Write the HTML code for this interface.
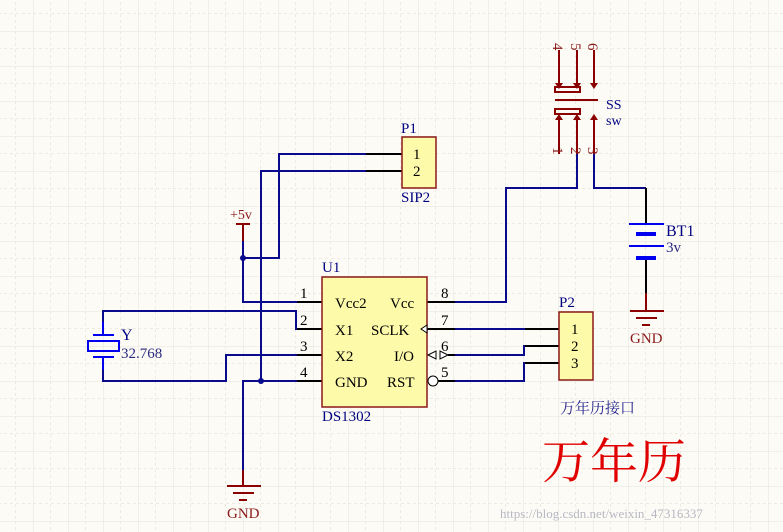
<!DOCTYPE html>
<html><head><meta charset="utf-8"><style>
html,body{margin:0;padding:0;background:#fcfbf6;}
svg{display:block;}
text{font-family:"Liberation Serif","Noto Serif CJK SC",serif;}
</style></head><body>
<svg width="783" height="532" viewBox="0 0 783 532" xmlns="http://www.w3.org/2000/svg">
<defs>
<pattern id="g" width="35" height="35" patternUnits="userSpaceOnUse" x="103" y="101">
<path d="M0 0V35M0 0H35" stroke="#e6e4da" stroke-width="1" fill="none"/>
<path d="M17.5 0V35M0 17.5H35" stroke="#eceae1" stroke-width="1" stroke-dasharray="3 3" fill="none"/>
</pattern>
</defs>
<rect width="783" height="532" fill="#fcfbf6"/>
<rect width="783" height="532" fill="url(#g)"/>

<g fill="none" stroke="#0a0a8c" stroke-width="2">
<polyline points="366,154 279,154 279,258 243,258"/>
<polyline points="243,240 243,302 297,302"/>
<polyline points="366,171 261,171 261,381"/>
<polyline points="297,329 296,329 296,311 103,311 103,322"/>
<polyline points="103,370 103,381 226,381 226,355 297,355"/>
<polyline points="297,381 243,381 243,470"/>
<polyline points="455,302 506,302 506,188 577,188 577,154"/>
<polyline points="594,154 594,188 646,188"/>
<polyline points="455,329 525,329"/>
<polyline points="448,355 524,355 524,346 525,346"/>
<polyline points="438,381 524,381 524,363 525,363"/>
</g>
<g fill="#0a0a8c"><circle cx="243" cy="258" r="3"/><circle cx="261" cy="381" r="3"/></g>

<g stroke="#000" stroke-width="2" fill="none">
<line x1="366" y1="154" x2="402" y2="154"/><line x1="366" y1="171" x2="402" y2="171"/>
<line x1="297" y1="302" x2="322" y2="302"/><line x1="297" y1="329" x2="322" y2="329"/>
<line x1="297" y1="355" x2="322" y2="355"/><line x1="297" y1="381" x2="322" y2="381"/>
<line x1="427" y1="302" x2="455" y2="302"/><line x1="427" y1="329" x2="455" y2="329"/>
<line x1="448" y1="355" x2="455" y2="355"/><line x1="438" y1="381" x2="455" y2="381"/>
<line x1="525" y1="329" x2="559" y2="329"/><line x1="525" y1="346" x2="559" y2="346"/>
<line x1="525" y1="363" x2="559" y2="363"/>
<polyline points="646,188 646,224"/><polyline points="646,258 646,293"/>
</g>

<rect x="322" y="277" width="105" height="130" fill="#fdfaaa" stroke="#8b1a1a" stroke-width="1.5"/>
<rect x="402" y="137" width="34" height="51" fill="#fdfaaa" stroke="#8b1a1a" stroke-width="1.5"/>
<rect x="559" y="312" width="34" height="68" fill="#fdfaaa" stroke="#8b1a1a" stroke-width="1.5"/>

<polygon points="427,325 421,329 427,333" fill="#fff" stroke="#000" stroke-width="1"/>
<polygon points="428,355 436,351 436,359" fill="#fff" stroke="#000" stroke-width="1"/>
<polygon points="448,355 440,351 440,359" fill="#fff" stroke="#000" stroke-width="1"/>
<circle cx="433" cy="381" r="5" fill="#fff" stroke="#000" stroke-width="1"/>

<line x1="236" y1="224" x2="250" y2="224" stroke="#8b0000" stroke-width="2"/>
<line x1="243" y1="224" x2="243" y2="241" stroke="#8b0000" stroke-width="2"/>
<text x="230" y="219" font-size="14" fill="#8b1a1a">+5v</text>

<g stroke="#8b0000" stroke-width="2">
<line x1="243" y1="470" x2="243" y2="486"/>
<line x1="227" y1="486" x2="261" y2="486"/><line x1="233" y1="493" x2="254" y2="493"/><line x1="239" y1="500" x2="247" y2="500"/>
</g>
<text x="227" y="518" font-size="15" fill="#8b1a1a">GND</text>

<g stroke="#0000ee" stroke-width="2" fill="none">
<line x1="103" y1="322" x2="103" y2="335"/><line x1="103" y1="357" x2="103" y2="370"/>
<line x1="93" y1="335" x2="114" y2="335"/><line x1="93" y1="357" x2="114" y2="357"/>
<rect x="88" y="341" width="31" height="10"/>
</g>
<text x="121" y="340" font-size="16" fill="#000080">Y</text>
<text x="121" y="358" font-size="15" fill="#2a2a80">32.768</text>

<g stroke="#8b0000" stroke-width="2" fill="none">
<line x1="559" y1="50" x2="559" y2="84"/><line x1="577" y1="50" x2="577" y2="84"/><line x1="594" y1="50" x2="594" y2="84"/>
<rect x="555" y="87" width="25" height="5"/>
<line x1="555" y1="100" x2="598" y2="100"/>
<rect x="555" y="109" width="25" height="5"/>
<line x1="559" y1="118" x2="559" y2="154"/><line x1="577" y1="118" x2="577" y2="154"/><line x1="594" y1="118" x2="594" y2="154"/>
</g>
<g fill="#8b0000">
<polygon points="555,83 563,83 559,89"/><polygon points="573,83 581,83 577,89"/><polygon points="590,83 598,83 594,89"/>
<polygon points="555,120 563,120 559,114"/><polygon points="573,120 581,120 577,114"/><polygon points="590,120 598,120 594,114"/>
</g>
<g font-size="15" fill="#8b1a1a">
<text transform="translate(553,43) rotate(90)">4</text>
<text transform="translate(571,43) rotate(90)">5</text>
<text transform="translate(588,43) rotate(90)">6</text>
<text transform="translate(553,147) rotate(90)">1</text>
<text transform="translate(571,147) rotate(90)">2</text>
<text transform="translate(588,147) rotate(90)">3</text>
</g>
<text x="606" y="109" font-size="14" fill="#000080" font-family="Liberation Sans">SS</text>
<text x="606" y="125" font-size="14" fill="#000080" font-family="Liberation Sans">sw</text>

<g stroke="#0000ee">
<line x1="629" y1="224" x2="664" y2="224" stroke-width="2"/>
<line x1="636" y1="234" x2="656" y2="234" stroke-width="4"/>
<line x1="629" y1="246" x2="664" y2="246" stroke-width="2"/>
<line x1="636" y1="258" x2="656" y2="258" stroke-width="4"/>
</g>
<text x="666" y="236" font-size="16" fill="#000080">BT1</text>
<text x="666" y="252" font-size="15" fill="#2a2a80">3v</text>
<g stroke="#8b0000" stroke-width="2">
<line x1="646" y1="293" x2="646" y2="311"/>
<line x1="630" y1="311" x2="664" y2="311"/><line x1="636" y1="318" x2="657" y2="318"/><line x1="642" y1="325" x2="650" y2="325"/>
</g>
<text x="630" y="343" font-size="15" fill="#8b1a1a">GND</text>

<g font-size="15" fill="#000">
<text x="335" y="308">Vcc2</text><text x="390" y="308">Vcc</text>
<text x="335" y="335">X1</text><text x="371" y="335">SCLK</text>
<text x="335" y="361">X2</text><text x="394" y="361">I/O</text>
<text x="335" y="387">GND</text><text x="387" y="387">RST</text>
<text x="300" y="298">1</text><text x="300" y="325">2</text><text x="300" y="351">3</text><text x="300" y="377">4</text>
<text x="441" y="298">8</text><text x="441" y="325">7</text><text x="441" y="351">6</text><text x="441" y="377">5</text>
<text x="413" y="159">1</text><text x="413" y="176">2</text>
<text x="571" y="334">1</text><text x="571" y="351">2</text><text x="571" y="368">3</text>
</g>
<g font-size="15" fill="#000080">
<text x="322" y="272">U1</text><text x="322" y="421">DS1302</text>
<text x="401" y="133">P1</text><text x="401" y="202">SIP2</text>
<text x="559" y="307">P2</text>
</g>
<text x="560" y="413" font-size="15" fill="#2a2a90">万年历接口</text>
<text x="542" y="478" font-size="48" fill="#e00000">万年历</text>
<text x="500" y="518" font-size="13" fill="#b8b8c4" font-family="Liberation Sans">https://blog.csdn.net/weixin_47316337</text>
</svg>
</body></html>
